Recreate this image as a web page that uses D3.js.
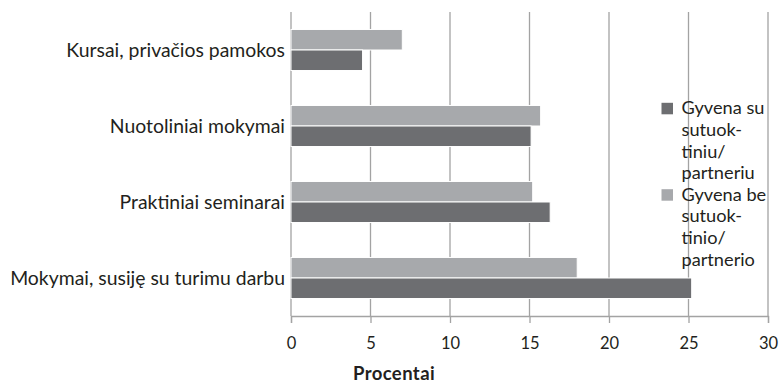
<!DOCTYPE html>
<html>
<head>
<meta charset="utf-8">
<script src="https://cdn.jsdelivr.net/npm/d3@7"></script>
<style>
  html, body { margin: 0; padding: 0; background: #ffffff; }
  svg { display: block; }
  text { font-family: "Lato", "Open Sans", sans-serif; fill: #231f20; }
</style>
</head>
<body>
<svg id="chart" width="781" height="385"></svg>
<script>
// Categories, top to bottom
const categories = [
  "Kursai, privačios pamokos",
  "Nuotoliniai mokymai",
  "Praktiniai seminarai",
  "Mokymai, susiję su turimu darbu"
];
// Share (%) living with a spouse/partner
const withPartner = [4.5, 15.1, 16.3, 25.2];
// Share (%) living without a spouse/partner
const withoutPartner = [7.0, 15.7, 15.2, 18.0];
const xTicks = [0, 5, 10, 15, 20, 25, 30];
const seriesKeys = ["without", "with"];
const legendItems = [
  { key: "with", lines: ["Gyvena su", "sutuok-", "tiniu/", "partneriu"] },
  { key: "without", lines: ["Gyvena be", "sutuok-", "tinio/", "partnerio"] }
];
const axisTitle = "Procentai";

const colors = { with: "#6d6e71", without: "#a7a9ac" };
const gridColor = "#a3a3a3";

const svg = d3.select("#chart");
const plotLeft = 291, plotRight = 768, plotTop = 12, plotBottom = 316;

const x = d3.scaleLinear().domain([0, 30]).range([plotLeft, plotRight]);
const y = d3.scaleBand().domain(categories).range([plotTop, plotBottom])
  .paddingInner(0.46).paddingOuter(0.23);
const ySub = d3.scaleBand().domain(seriesKeys).range([0, y.bandwidth()]);

const rows = categories.map((c, i) => ({ cat: c, with: withPartner[i], without: withoutPartner[i] }));

// Vertical gridlines
svg.append("g").selectAll("line").data(xTicks).join("line")
  .attr("x1", d => x(d)).attr("x2", d => x(d))
  .attr("y1", plotTop).attr("y2", plotBottom)
  .attr("stroke", gridColor).attr("stroke-width", 1.3);

// Bottom axis with ticks pointing down
const xAxis = svg.append("g").attr("transform", `translate(0,${plotBottom})`)
  .call(d3.axisBottom(x).tickValues(xTicks).tickSize(7).tickPadding(14).tickFormat(d3.format("d")));
xAxis.select(".domain").attr("stroke", gridColor).attr("stroke-width", 1.3);
xAxis.selectAll(".tick line").attr("stroke", gridColor).attr("stroke-width", 1.3);
xAxis.selectAll(".tick text").attr("font-size", 16.5).attr("fill", "#231f20")
  .style("font-family", "Lato, 'Open Sans', sans-serif");

// Bars
const groups = svg.append("g").selectAll("g").data(rows).join("g")
  .attr("transform", d => `translate(0,${y(d.cat)})`);
groups.selectAll("rect").data(d => seriesKeys.map(k => ({ key: k, value: d[k] }))).join("rect")
  .attr("x", x(0))
  .attr("y", d => ySub(d.key))
  .attr("width", d => x(d.value) - x(0))
  .attr("height", ySub.bandwidth())
  .attr("fill", d => colors[d.key])
  .attr("stroke", "#ffffff").attr("stroke-width", 1);

// Category labels
svg.append("g").selectAll("text").data(categories).join("text")
  .attr("x", 285)
  .attr("y", d => y(d) + y.bandwidth() / 2)
  .attr("dy", "0.34em")
  .attr("text-anchor", "end")
  .attr("font-size", 19.4)
  .text(d => d);

// Axis title
svg.append("text")
  .attr("x", 394).attr("y", 380)
  .attr("text-anchor", "middle")
  .attr("font-size", 18.5).attr("font-weight", "bold")
  .attr("letter-spacing", 0.4)
  .text(axisTitle);

// Legend
const legend = svg.append("g");
const firstBaseline = 114.3;
const lineH = 21.6;
let lineIndex = 0;
legendItems.forEach((item) => {
  const base = firstBaseline + lineIndex * lineH;
  legend.append("rect")
    .attr("x", 661.5).attr("y", base - 11.5)
    .attr("width", 11.5).attr("height", 11.5)
    .attr("fill", colors[item.key]);
  const t = legend.append("text")
    .attr("x", 681.5).attr("y", base)
    .attr("font-size", 18.2);
  item.lines.forEach((ln, j) => {
    t.append("tspan").attr("x", 681.5).attr("y", base + j * lineH).text(ln);
  });
  lineIndex += item.lines.length;
});
</script>
</body>
</html>
